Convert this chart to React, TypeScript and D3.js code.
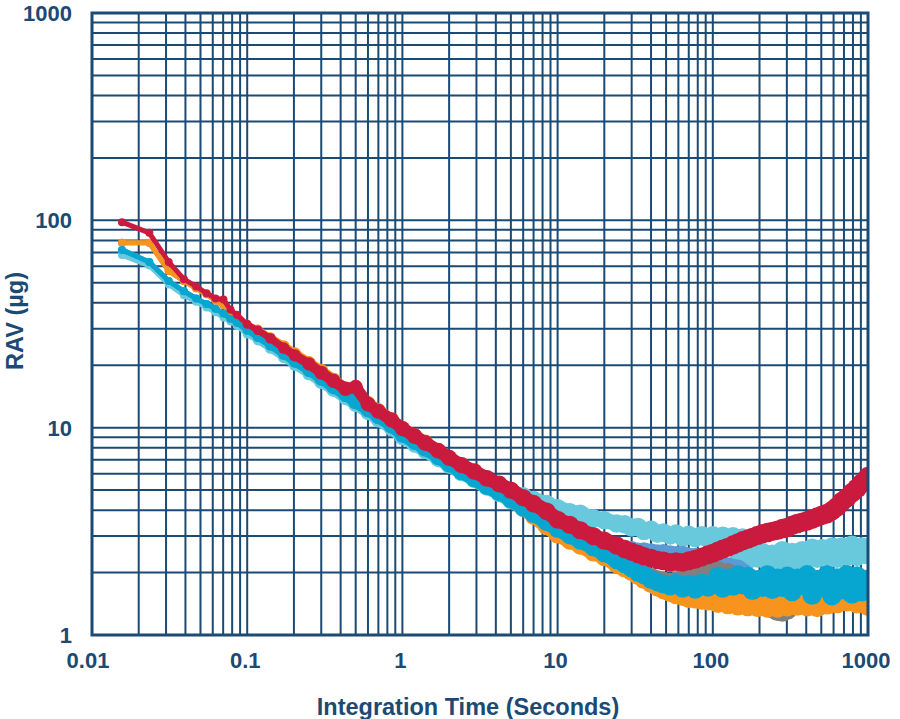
import * as d3 from "d3";

const TAU = [
  0.0156, 0.0234, 0.0312, 0.0391, 0.0469, 0.0547, 0.0625, 0.0703, 0.0781, 0.0859,
  0.1, 0.117, 0.141, 0.172, 0.203, 0.25, 0.3, 0.36, 0.43, 0.5, 0.6, 0.7, 0.85,
  1, 1.2, 1.4, 1.7, 2, 2.4, 2.9, 3.5, 4.2, 5, 6, 7, 8.5,
  10, 12, 14, 17, 20, 24, 27, 30, 33, 36, 40, 44, 48, 53, 58, 64, 70, 77, 85, 93,
  100, 108, 116, 125, 135, 145, 156, 168, 180, 194, 209, 225, 242, 261, 281, 302,
  325, 350, 377, 406, 437, 470, 506, 545, 587, 632, 680, 732, 788, 849, 914, 1000,
];

const RED = [
  98, 87, 63, 52, 48, 44.5, 42, 41.5, 37, 35,
  31.5, 29.5, 27, 24.2, 22.3, 20.3, 18.4, 16.8, 15.4, 15.7, 13.0, 12.0, 10.9,
  9.9, 9.1, 8.45, 7.75, 7.15, 6.6, 6.15, 5.7, 5.35, 5.0, 4.6, 4.3, 3.95,
  3.6, 3.4, 3.2, 3.0, 2.85, 2.7, 2.6, 2.52, 2.46, 2.4, 2.35, 2.3, 2.28, 2.24, 2.26, 2.24, 2.28, 2.32, 2.38, 2.44,
  2.48, 2.54, 2.6, 2.65, 2.72, 2.78, 2.85, 2.9, 2.96, 3.02, 3.08, 3.12, 3.16, 3.2, 3.26, 3.3,
  3.38, 3.45, 3.5, 3.55, 3.62, 3.7, 3.78, 3.85, 3.98, 4.15, 4.4, 4.6, 4.85, 5.1, 5.4, 5.8,
];

const ORANGE = [
  78, 78, 57, 51, 47, 44, 41, 39, 36.5, 34.5,
  31.5, 29.8, 27.2, 24.8, 22.8, 20.6, 18.8, 17.0, 15.4, 14.3, 13.1, 12.1, 10.9,
  9.9, 9.1, 8.5, 7.7, 7.1, 6.5, 5.95, 5.45, 5.0, 4.5, 4.1, 3.75, 3.35,
  3.05, 2.85, 2.7, 2.5, 2.38, 2.2, 2.1, 2.02, 1.93, 1.85, 1.77, 1.7, 1.65, 1.6, 1.56, 1.53, 1.5, 1.49, 1.47, 1.46,
  1.48, 1.42, 1.5, 1.4, 1.47, 1.38, 1.46, 1.37, 1.44, 1.36, 1.43, 1.35, 1.42, 1.35, 1.44, 1.37,
  1.47, 1.38, 1.45, 1.37, 1.43, 1.36, 1.47, 1.4, 1.5, 1.42, 1.55, 1.45, 1.53, 1.42, 1.5, 1.38,
];

const BLUE = [
  72, 63, 51, 45.5, 42, 39.5, 37.5, 35.5, 33.5, 32,
  29.5, 27.3, 25, 22.6, 20.8, 18.9, 17.2, 15.7, 14.4, 13.3, 12.2, 11.3, 10.2,
  9.2, 8.5, 7.9, 7.2, 6.65, 6.1, 5.65, 5.2, 4.85, 4.5, 4.1, 3.82, 3.5,
  3.25, 3.02, 2.85, 2.65, 2.48, 2.3, 2.2, 2.1, 2.0, 1.95, 1.85, 1.8, 1.76, 1.72, 1.78, 1.68, 1.76, 1.66, 1.78, 1.7,
  1.75, 1.92, 1.68, 1.88, 1.72, 1.95, 1.75, 1.92, 1.64, 1.85, 1.7, 1.95, 1.66, 1.88, 1.7, 1.92,
  1.62, 1.88, 1.74, 1.95, 1.56, 1.85, 1.7, 1.95, 1.55, 1.88, 1.66, 1.95, 1.58, 1.92, 1.62, 1.85,
];

const LIGHT_CYAN_A = [
  68, 60.5, 49, 43.5, 40.5, 38, 36, 34, 32.5, 31,
  28.3, 26.3, 24.1, 21.8, 20.1, 18.2, 16.6, 15.2, 13.9, 12.9, 11.8, 10.9, 9.9,
  8.95, 8.25, 7.7, 7.05, 6.55, 6.05, 5.65, 5.3, 5.05, 4.95, 4.7, 4.5, 4.3,
  4.1, 3.92, 3.85, 3.66, 3.58, 3.45, 3.42, 3.3, 3.32, 3.18, 3.22, 3.08, 3.12, 3.02, 3.08, 2.96, 3.04, 2.94, 3.02, 2.92,
  3.02, 2.9, 3.0, 2.88, 2.98, 2.86, 2.94, 2.84, 2.86, null, null, null, null, null, null, null,
  null, null, null, null, null, null, null, null, null, null, null, null, null, null, null, null,
];

const LIGHT_CYAN_B = [
  70, 62, 50, 45, 41.5, 39, 37, 35, 33, 31.5,
  29.2, 27, 24.7, 22.4, 20.6, 18.7, 17.0, 15.5, 14.2, 13.2, 12.1, 11.2, 10.1,
  9.1, 8.4, 7.8, 7.15, 6.6, 6.05, 5.6, 5.15, 4.8, 4.45, 4.08, 3.8, 3.48,
  3.24, 3.0, 2.84, 2.64, 2.47, 2.3, 2.2, 2.1, 2.02, 1.96, 1.9, 1.85, 1.82, 1.8, 1.82, 1.85, 1.88, 1.9, 1.95, 2.0,
  1.85, 1.9, 1.95, 2.0, 2.1, 2.25, 2.4, 2.3, 2.45, 2.35, 2.5, 2.3, 2.45, 2.3, 2.55, 2.3,
  2.5, 2.3, 2.55, 2.35, 2.62, 2.35, 2.6, 2.4, 2.65, 2.35, 2.65, 2.4, 2.7, 2.4, 2.65, 2.45,
];

const GREY = [
  78, 78, 57, 51, 47, 44, 41, 39, 36.5, 34.5,
  31.2, 29.5, 27, 24.5, 22.5, 20.4, 18.6, 16.9, 15.3, 14.2, 13.0, 12.0, 10.8,
  9.7, 8.9, 8.3, 7.55, 6.95, 6.35, 5.85, 5.35, 4.95, 4.5, 4.1, 3.8, 3.45,
  3.2, 2.98, 2.8, 2.6, 2.45, 2.28, 2.18, 2.1, 2.02, 1.96, 1.9, 1.85, 1.82, 1.8, 1.82, 1.86, 1.9, 1.95, 1.98, 2.0,
  2.0, 2.05, 1.95, 2.0, 1.9, 1.8, 1.7, 1.6, 1.55, 1.5, 1.45, 1.4, 1.34, 1.3, 1.29, 1.32,
  1.45, 1.5, 1.55, 1.6, 1.62, 1.65, 1.6, 1.65, 1.6, 1.65, 1.6, 1.7, 1.65, 1.6, 1.5, 1.45,
];

const STEEL = [
  72, 63, 51, 45.5, 42, 39.5, 37.5, 35.5, 33.5, 32,
  29.5, 27.3, 25, 22.6, 20.8, 18.9, 17.2, 15.7, 14.4, 13.3, 12.2, 11.3, 10.2,
  9.3, 8.6, 8.0, 7.3, 6.75, 6.2, 5.75, 5.3, 4.95, 4.6, 4.25, 3.95, 3.65,
  3.42, 3.22, 3.05, 2.86, 2.74, 2.64, 2.6, 2.56, 2.52, 2.53, 2.5, 2.47, 2.48, 2.44, 2.42, 2.43, 2.38, 2.37, 2.32, 2.27,
  2.22, 2.2, 2.16, 2.13, 2.1, 2.08, 2.0, 1.9, null, null, null, null, null, null, null, null,
  null, null, null, null, null, null, null, null, null, null, null, null, null, null, null, null,
];

const X_TICKS = [0.01, 0.1, 1, 10, 100, 1000];
const Y_TICKS = [1, 10, 100, 1000];
const X_LABELS = ["0.01", "0.1", "1", "10", "100", "1000"];
const Y_LABELS = ["1", "10", "100", "1000"];

const SERIES = [
  { name: "cyanA", color: "#68c9dd", values: LIGHT_CYAN_A },
  { name: "cyanB", color: "#68c9dd", values: LIGHT_CYAN_B },
  { name: "steel", color: "#5b9bd5", values: STEEL },
  { name: "grey", color: "#808080", values: GREY },
  { name: "orange", color: "#f7941d", values: ORANGE },
  { name: "blue", color: "#06a6d1", values: BLUE },
  { name: "red", color: "#ca1a3e", values: RED },
];

const NAVY = "#1b4a74";
const FONT = "'Liberation Sans', Arial, sans-serif";

export default function App() {
  const width = 900;
  const height = 719;
  const plot = { left: 92, right: 868, top: 13, bottom: 635 };

  const x = d3.scaleLog().domain([0.01, 1000]).range([plot.left, plot.right]);
  const y = d3.scaleLog().domain([1, 1000]).range([plot.bottom, plot.top]);

  // the trace gets thicker where the measured points get dense and noisy
  const traceWidth = d3
    .scaleLog()
    .domain([0.08, 0.3, 10, 1000])
    .range([5, 11, 15, 17])
    .clamp(true);

  const xGrid = x.ticks();
  const yGrid = y.ticks();

  return (
    <svg
      width={width}
      height={height}
      style={{ position: "absolute", left: 0, top: 0, background: "#fff" }}
    >
      <defs>
        <clipPath id="plot-clip">
          <rect
            x={plot.left}
            y={plot.top}
            width={plot.right - plot.left}
            height={plot.bottom - plot.top}
          />
        </clipPath>
      </defs>
      <g stroke={NAVY} strokeWidth={2}>
        {xGrid.map((t, i) => (
          <line key={"gx" + i} x1={x(t)} x2={x(t)} y1={plot.top} y2={plot.bottom} />
        ))}
        {yGrid.map((t, i) => (
          <line key={"gy" + i} x1={plot.left} x2={plot.right} y1={y(t)} y2={y(t)} />
        ))}
      </g>
      <g clipPath="url(#plot-clip)">
        {SERIES.map((s) => (
          <g key={s.name} stroke={s.color} fill={s.color} strokeLinecap="round">
            {s.values.map((v, i) => {
              const next = s.values[i + 1];
              if (v == null || next == null || i + 1 >= TAU.length) return null;
              return (
                <line
                  key={"s" + i}
                  x1={x(TAU[i])}
                  y1={y(v)}
                  x2={x(TAU[i + 1])}
                  y2={y(next)}
                  strokeWidth={traceWidth(TAU[i])}
                />
              );
            })}
            {s.values.map((v, i) =>
              v == null ? null : (
                <circle
                  key={"c" + i}
                  cx={x(TAU[i])}
                  cy={y(v)}
                  r={traceWidth(TAU[i]) / 2 + 1.5}
                  stroke="none"
                />
              )
            )}
          </g>
        ))}
      </g>
      <rect
        x={plot.left}
        y={plot.top}
        width={plot.right - plot.left}
        height={plot.bottom - plot.top}
        fill="none"
        stroke={NAVY}
        strokeWidth={3}
      />
      <g fill={NAVY} fontFamily={FONT} fontWeight="bold" fontSize={22}>
        {Y_TICKS.map((t, i) => (
          <text key={"yl" + i} x={plot.left - 20} y={y(t)} dy="0.36em" textAnchor="end">
            {Y_LABELS[i]}
          </text>
        ))}
        {X_TICKS.map((t, i) => (
          <text key={"xl" + i} x={x(t) - (i === 0 ? 4 : 2)} y={668} textAnchor="middle">
            {X_LABELS[i]}
          </text>
        ))}
      </g>
      <text
        x={468}
        y={715}
        textAnchor="middle"
        fill={NAVY}
        fontFamily={FONT}
        fontWeight="bold"
        fontSize={23.5}
      >
        Integration Time (Seconds)
      </text>
      <text
        transform={`translate(23, ${(plot.top + plot.bottom) / 2 - 3}) rotate(-90)`}
        textAnchor="middle"
        fill={NAVY}
        fontFamily={FONT}
        fontWeight="bold"
        fontSize={23.5}
      >
        RAV (µg)
      </text>
    </svg>
  );
}
